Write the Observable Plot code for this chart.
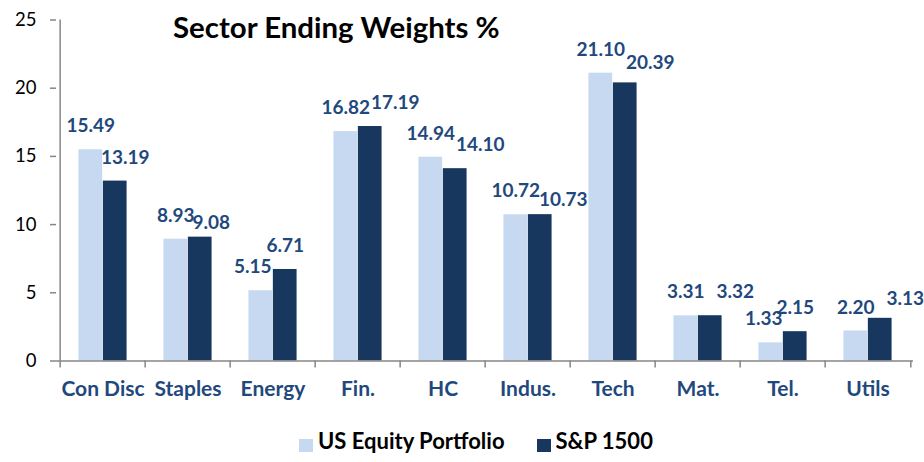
<!DOCTYPE html>
<html>
<head>
<meta charset="utf-8">
<script src="https://cdn.jsdelivr.net/npm/d3@7"></script>
<script src="https://cdn.jsdelivr.net/npm/@observablehq/plot@0.6"></script>
<style>
  html, body { margin: 0; padding: 0; background: #fff; }
  #wrap { position: relative; width: 924px; height: 462px; overflow: hidden; font-family: Lato, sans-serif; }
  #title { position: absolute; left: 173px; top: 9px; margin: 0; font-size: 29.4px; line-height: 1.2; font-weight: bold; color: #000; white-space: nowrap; }
  #legend { position: absolute; left: 299px; top: 428px; display: flex; align-items: flex-start; font-size: 22px; line-height: 1.2; font-weight: bold; color: #000; white-space: nowrap; }
  .sw { display: inline-block; width: 14px; height: 13px; margin-right: 5px; margin-top: 11px; }
  .item { display: flex; align-items: flex-start; margin-right: 32px; }
</style>
</head>
<body>
<div id="wrap">
  <div id="chart"></div>
  <h2 id="title">Sector Ending Weights %</h2>
  <div id="legend"></div>
</div>
<script>
const categories = ["Con Disc", "Staples", "Energy", "Fin.", "HC", "Indus.", "Tech", "Mat.", "Tel.", "Utils"];
const portfolio = [15.49, 8.93, 5.15, 16.82, 14.94, 10.72, 21.10, 3.31, 1.33, 2.20];
const sp1500 = [13.19, 9.08, 6.71, 17.19, 14.10, 10.73, 20.39, 3.32, 2.15, 3.13];
const seriesNames = ["US Equity Portfolio", "S&P 1500"];
const yTicks = [0, 5, 10, 15, 20, 25];

const LIGHT = "#C6D9F1", DARK = "#17375E", LABEL = "#1F497D", AXIS = "#868686";
const W = 924, H = 418, mL = 56, mR = 11, mT = 19.5, mB = 57.5;
const bw = (W - mL - mR) / categories.length;

// label placement tweaks (pixels), as the labels were hand-placed in the original to avoid overlaps
const lightLabelDx = {"Energy": -8, "Tel.": -7};
const darkLabelDx = {"Con Disc": -15, "Staples": -14, "Energy": -25, "Tel.": -25, "Indus.": -2};
const darkLabelDy = {"Staples": 9, "Indus.": 8.5, "Utils": 4.5, "Tech": 3.5};

const rowsP = categories.map((c, i) => ({sector: c, value: portfolio[i]}));
const rowsS = categories.map((c, i) => ({sector: c, value: sp1500[i]}));

const labelStyle = {fontSize: 19, fontWeight: "bold", fill: LABEL};

const chart = Plot.plot({
  width: W, height: H,
  marginLeft: mL, marginRight: mR, marginTop: mT, marginBottom: mB,
  style: {fontFamily: "Lato, sans-serif", background: "#fff"},
  x: {domain: categories, padding: 0, label: null},
  y: {domain: [0, 25], label: null},
  marks: [
    Plot.barY(rowsP, {x: "sector", y: "value", fill: LIGHT, insetLeft: 0.215 * bw, insetRight: 0.5 * bw}),
    Plot.barY(rowsS, {x: "sector", y: "value", fill: DARK, insetLeft: 0.5 * bw, insetRight: 0.215 * bw}),
    Plot.ruleY([0], {stroke: AXIS, strokeWidth: 1.5}),
    Plot.ruleX([categories[0]], {y1: 0, y2: 25, dx: -bw / 2, stroke: AXIS, strokeWidth: 1.5}),
    Plot.ruleX(categories, {y1: 0, y2: 0, insetBottom: -7, dx: -bw / 2, stroke: AXIS, strokeWidth: 1.5}),
    Plot.ruleX([categories[categories.length - 1]], {y1: 0, y2: 0, insetBottom: -7, dx: bw / 2, stroke: AXIS, strokeWidth: 1.5}),
    Plot.axisY({ticks: yTicks, tickSize: 6, tickPadding: 14, fontSize: 18.5, stroke: AXIS, fill: "#000", strokeWidth: 1.5}),
    Plot.axisX({tickSize: 0, tickPadding: 20, fontSize: 21, fontWeight: "bold", fill: LABEL}),
    ...rowsP.map(d => Plot.text([d], {x: "sector", y: "value", text: r => r.value.toFixed(2),
      dx: -0.1425 * bw + (lightLabelDx[d.sector] || 0), dy: -23.5, ...labelStyle})),
    ...rowsS.map(d => Plot.text([d], {x: "sector", y: "value", text: r => r.value.toFixed(2),
      dx: 0.1425 * bw + 25 + (darkLabelDx[d.sector] || 0), dy: -23.5 + (darkLabelDy[d.sector] || 0), ...labelStyle}))
  ]
});
document.getElementById("chart").appendChild(chart);

const legend = document.getElementById("legend");
[[seriesNames[0], LIGHT], [seriesNames[1], DARK]].forEach(([name, color]) => {
  const item = document.createElement("div");
  item.className = "item";
  const sw = document.createElement("span");
  sw.className = "sw";
  sw.style.background = color;
  const t = document.createElement("span");
  t.textContent = name;
  item.appendChild(sw); item.appendChild(t);
  legend.appendChild(item);
});
</script>
</body>
</html>
